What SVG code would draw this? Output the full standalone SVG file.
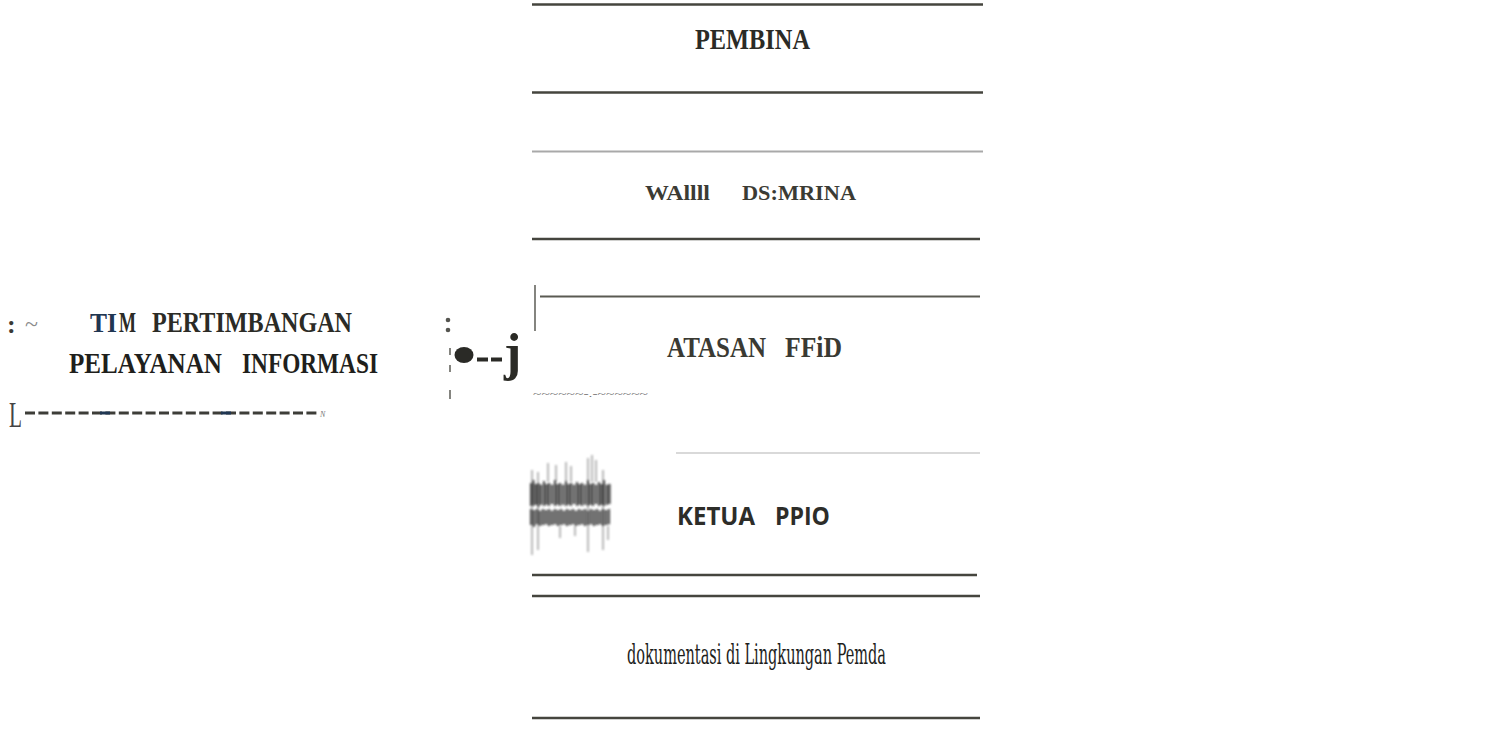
<svg xmlns="http://www.w3.org/2000/svg" width="1501" height="729" viewBox="0 0 1501 729">
  <style>
    .rule { stroke: #45453e; stroke-width: 2.5; fill: none; }
    .rule-light { stroke: #a9a9a9; stroke-width: 2; fill: none; }
    .rule-thin { stroke: #b4b4b4; stroke-width: 1.2; fill: none; }
    .serif-b { font-family: "Liberation Serif", "Times New Roman", serif; font-weight: bold; fill: #2b2b26; }
    .serif { font-family: "Liberation Serif", "Times New Roman", serif; fill: #3a3a35; }
    .sans-b { font-family: "Open Sans", "Noto Sans", "Liberation Sans", sans-serif; font-weight: bold; fill: #2d2d29; }
    .cond { font-family: "DejaVu Serif Condensed", "DejaVu Serif", "Liberation Serif", serif; font-stretch: condensed; fill: #1e1e1c; }
    .tick { stroke: #666660; stroke-width: 1.6; fill: none; }
    .scan { stroke: #262626; stroke-width: 1.6; }
    .scan-faint { stroke: #6e6e6e; stroke-width: 1; }
  </style>
  <defs>
    <filter id="soft" x="-10%" y="-10%" width="120%" height="120%">
      <feGaussianBlur stdDeviation="0.8 1.2"/>
    </filter>
  </defs>

  <rect x="0" y="0" width="1501" height="729" fill="#ffffff"/>

  <!-- Pembina -->
  <g id="node-pembina">
    <line class="rule" x1="532" y1="4.5" x2="983" y2="4.5"/>
    <text class="serif-b" x="695" y="49" font-size="29" textLength="115" lengthAdjust="spacingAndGlyphs">PEMBINA</text>
    <line class="rule" x1="532" y1="92.5" x2="983" y2="92.5"/>
  </g>

  <!-- Wakil pembina -->
  <g id="node-wakil">
    <line class="rule-light" x1="532" y1="151.5" x2="983" y2="151.5"/>
    <text class="serif-b" y="200" font-size="21" style="fill:#3b3b34"><tspan x="645" textLength="65" lengthAdjust="spacingAndGlyphs">WAllll</tspan><tspan x="742" textLength="114" lengthAdjust="spacingAndGlyphs">DS:MRINA</tspan></text>
    <line class="rule" x1="532" y1="239" x2="980" y2="239"/>
  </g>

  <!-- Tim pertimbangan -->
  <g id="node-tim">
    <text class="serif-b" x="7" y="333" font-size="26" style="fill:#3a3a35">:</text>
    <text class="serif" x="25" y="331" font-size="22" textLength="13" lengthAdjust="spacingAndGlyphs" style="fill:#8a8a8a">~</text>
    <text class="serif-b" y="332" font-size="29"><tspan x="90" font-size="27" textLength="27" lengthAdjust="spacingAndGlyphs" style="fill:#1f3652">TI</tspan><tspan x="119" textLength="17" lengthAdjust="spacingAndGlyphs">M</tspan><tspan x="152" textLength="200" lengthAdjust="spacingAndGlyphs">PERTIMBANGAN</tspan></text>
    <text class="serif-b" y="373" font-size="28.5" style="fill:#1f1f1c"><tspan x="69" textLength="153" lengthAdjust="spacingAndGlyphs">PELAYANAN</tspan><tspan x="242" textLength="136" lengthAdjust="spacingAndGlyphs">INFORMASI</tspan></text>
    <text class="serif" x="9" y="427" font-size="36" textLength="13" lengthAdjust="spacingAndGlyphs" style="fill:#444">L</text>
    <line x1="25" y1="413" x2="318" y2="413" stroke="#3d3d38" stroke-width="3" stroke-dasharray="10 3.4"/>
    <line x1="100" y1="413" x2="110" y2="413" stroke="#1f3652" stroke-width="3"/>
    <line x1="221" y1="413" x2="231" y2="413" stroke="#1f3652" stroke-width="3"/>
    <text class="serif" x="320" y="417" font-size="8" font-style="italic" style="fill:#777">N</text>
  </g>

  <!-- Connector marks between the committee and the supervisor -->
  <g id="connectors">
    <circle cx="448" cy="320" r="2.3" fill="#555550"/>
    <circle cx="448" cy="330" r="2.3" fill="#555550"/>
    <line class="tick" x1="450" y1="348" x2="450" y2="355"/>
    <line class="tick" x1="450" y1="365" x2="450" y2="372"/>
    <line class="tick" x1="450" y1="390" x2="450" y2="399"/>
    <ellipse cx="464" cy="355" rx="9.5" ry="8" fill="#2a2a26"/>
    <rect x="477" y="357.5" width="11" height="4" fill="#2a2a26"/>
    <rect x="491" y="357.5" width="11" height="4" fill="#2a2a26"/>
    <text class="serif-b" x="504" y="370" font-size="52">j</text>
    <line class="tick" x1="535" y1="285" x2="535" y2="331"/>
    <text class="serif" x="533" y="397" font-size="9" textLength="115" lengthAdjust="spacingAndGlyphs" style="fill:#555">~~~~~~-.-~~~~~~</text>
  </g>

  <!-- Atasan PPID -->
  <g id="node-atasan">
    <line x1="540" y1="296.5" x2="980" y2="296.5" stroke="#5a5a52" stroke-width="2"/>
    <text class="serif-b" y="357" font-size="29" style="fill:#3a3a33"><tspan x="667" textLength="99" lengthAdjust="spacingAndGlyphs">ATASAN</tspan><tspan x="785" textLength="57" lengthAdjust="spacingAndGlyphs">FFiD</tspan></text>
  </g>

  <!-- Ketua PPID -->
  <g id="node-ketua">
    <line class="rule-thin" x1="676" y1="453" x2="980" y2="453"/>
    <g id="stamp" filter="url(#soft)">
      <line class="scan-faint" x1="532" y1="470" x2="532" y2="555"/>
      <line class="scan-faint" x1="538" y1="472" x2="538" y2="550"/>
      <line class="scan-faint" x1="548" y1="463" x2="548" y2="482"/>
      <line class="scan-faint" x1="556" y1="465" x2="556" y2="482"/>
      <line class="scan-faint" x1="566" y1="462" x2="566" y2="482"/>
      <line class="scan-faint" x1="571" y1="466" x2="571" y2="482"/>
      <line class="scan-faint" x1="588" y1="458" x2="588" y2="552"/>
      <line class="scan-faint" x1="592" y1="455" x2="592" y2="482"/>
      <line class="scan-faint" x1="596" y1="460" x2="596" y2="482"/>
      <line class="scan-faint" x1="603" y1="470" x2="603" y2="550"/>
      <line class="scan-faint" x1="608" y1="526" x2="608" y2="540"/>
      <line class="scan-faint" x1="560" y1="526" x2="560" y2="538"/>
      <line class="scan-faint" x1="575" y1="526" x2="575" y2="536"/>
      <rect x="530" y="484" width="81" height="20" fill="#555" opacity="0.35"/>
      <rect x="530" y="510" width="80" height="15" fill="#555" opacity="0.35"/>
      <!-- upper dense band -->
      <g class="scan">
        <line x1="531" y1="483" x2="531" y2="506"/><line x1="533.5" y1="480" x2="533.5" y2="506"/>
        <line x1="536" y1="484" x2="536" y2="505"/><line x1="538.5" y1="483" x2="538.5" y2="507"/>
        <line x1="541" y1="485" x2="541" y2="505"/><line x1="544" y1="481" x2="544" y2="506"/>
        <line x1="546.5" y1="484" x2="546.5" y2="505"/><line x1="549" y1="483" x2="549" y2="506"/>
        <line x1="552" y1="485" x2="552" y2="504"/><line x1="555" y1="480" x2="555" y2="506"/>
        <line x1="557.5" y1="484" x2="557.5" y2="505"/><line x1="560" y1="483" x2="560" y2="506"/>
        <line x1="563" y1="485" x2="563" y2="505"/><line x1="566" y1="481" x2="566" y2="506"/>
        <line x1="568.5" y1="484" x2="568.5" y2="505"/><line x1="571" y1="483" x2="571" y2="506"/>
        <line x1="574" y1="485" x2="574" y2="504"/><line x1="577" y1="482" x2="577" y2="506"/>
        <line x1="579.5" y1="484" x2="579.5" y2="505"/><line x1="582" y1="483" x2="582" y2="506"/>
        <line x1="585" y1="485" x2="585" y2="505"/><line x1="588" y1="480" x2="588" y2="506"/>
        <line x1="590.5" y1="484" x2="590.5" y2="505"/><line x1="593" y1="483" x2="593" y2="506"/>
        <line x1="596" y1="485" x2="596" y2="504"/><line x1="599" y1="482" x2="599" y2="506"/>
        <line x1="601.5" y1="484" x2="601.5" y2="505"/><line x1="604" y1="480" x2="604" y2="506"/>
        <line x1="607" y1="485" x2="607" y2="505"/><line x1="609.5" y1="484" x2="609.5" y2="504"/>
      </g>
      <!-- lower dense band -->
      <g class="scan">
        <line x1="531" y1="509" x2="531" y2="525"/><line x1="534" y1="510" x2="534" y2="527"/>
        <line x1="537" y1="509" x2="537" y2="524"/><line x1="540" y1="511" x2="540" y2="526"/>
        <line x1="543" y1="509" x2="543" y2="525"/><line x1="546" y1="510" x2="546" y2="524"/>
        <line x1="549" y1="509" x2="549" y2="526"/><line x1="552" y1="511" x2="552" y2="525"/>
        <line x1="555" y1="509" x2="555" y2="524"/><line x1="558" y1="510" x2="558" y2="526"/>
        <line x1="561" y1="509" x2="561" y2="525"/><line x1="564" y1="511" x2="564" y2="524"/>
        <line x1="567" y1="509" x2="567" y2="526"/><line x1="570" y1="510" x2="570" y2="525"/>
        <line x1="573" y1="509" x2="573" y2="524"/><line x1="576" y1="511" x2="576" y2="526"/>
        <line x1="579" y1="509" x2="579" y2="525"/><line x1="582" y1="510" x2="582" y2="524"/>
        <line x1="585" y1="509" x2="585" y2="526"/><line x1="588" y1="511" x2="588" y2="525"/>
        <line x1="591" y1="509" x2="591" y2="524"/><line x1="594" y1="510" x2="594" y2="526"/>
        <line x1="597" y1="509" x2="597" y2="525"/><line x1="600" y1="511" x2="600" y2="524"/>
        <line x1="603" y1="509" x2="603" y2="526"/><line x1="606" y1="510" x2="606" y2="525"/>
        <line x1="609" y1="509" x2="609" y2="524"/>
      </g>
    </g>
    <text class="sans-b" y="525" font-size="25"><tspan x="677" textLength="78" lengthAdjust="spacingAndGlyphs">KETUA</tspan><tspan x="775" textLength="55" lengthAdjust="spacingAndGlyphs">PPIO</tspan></text>
    <line class="rule" x1="532" y1="575" x2="977" y2="575"/>
  </g>

  <!-- Dokumentasi -->
  <g id="node-dokumentasi">
    <line class="rule" x1="532" y1="596" x2="980" y2="596"/>
    <text class="cond" x="627" y="664" font-size="28" textLength="259" lengthAdjust="spacingAndGlyphs">dokumentasi di Lingkungan Pemda</text>
    <line class="rule" x1="532" y1="718" x2="980" y2="718"/>
  </g>
</svg>
